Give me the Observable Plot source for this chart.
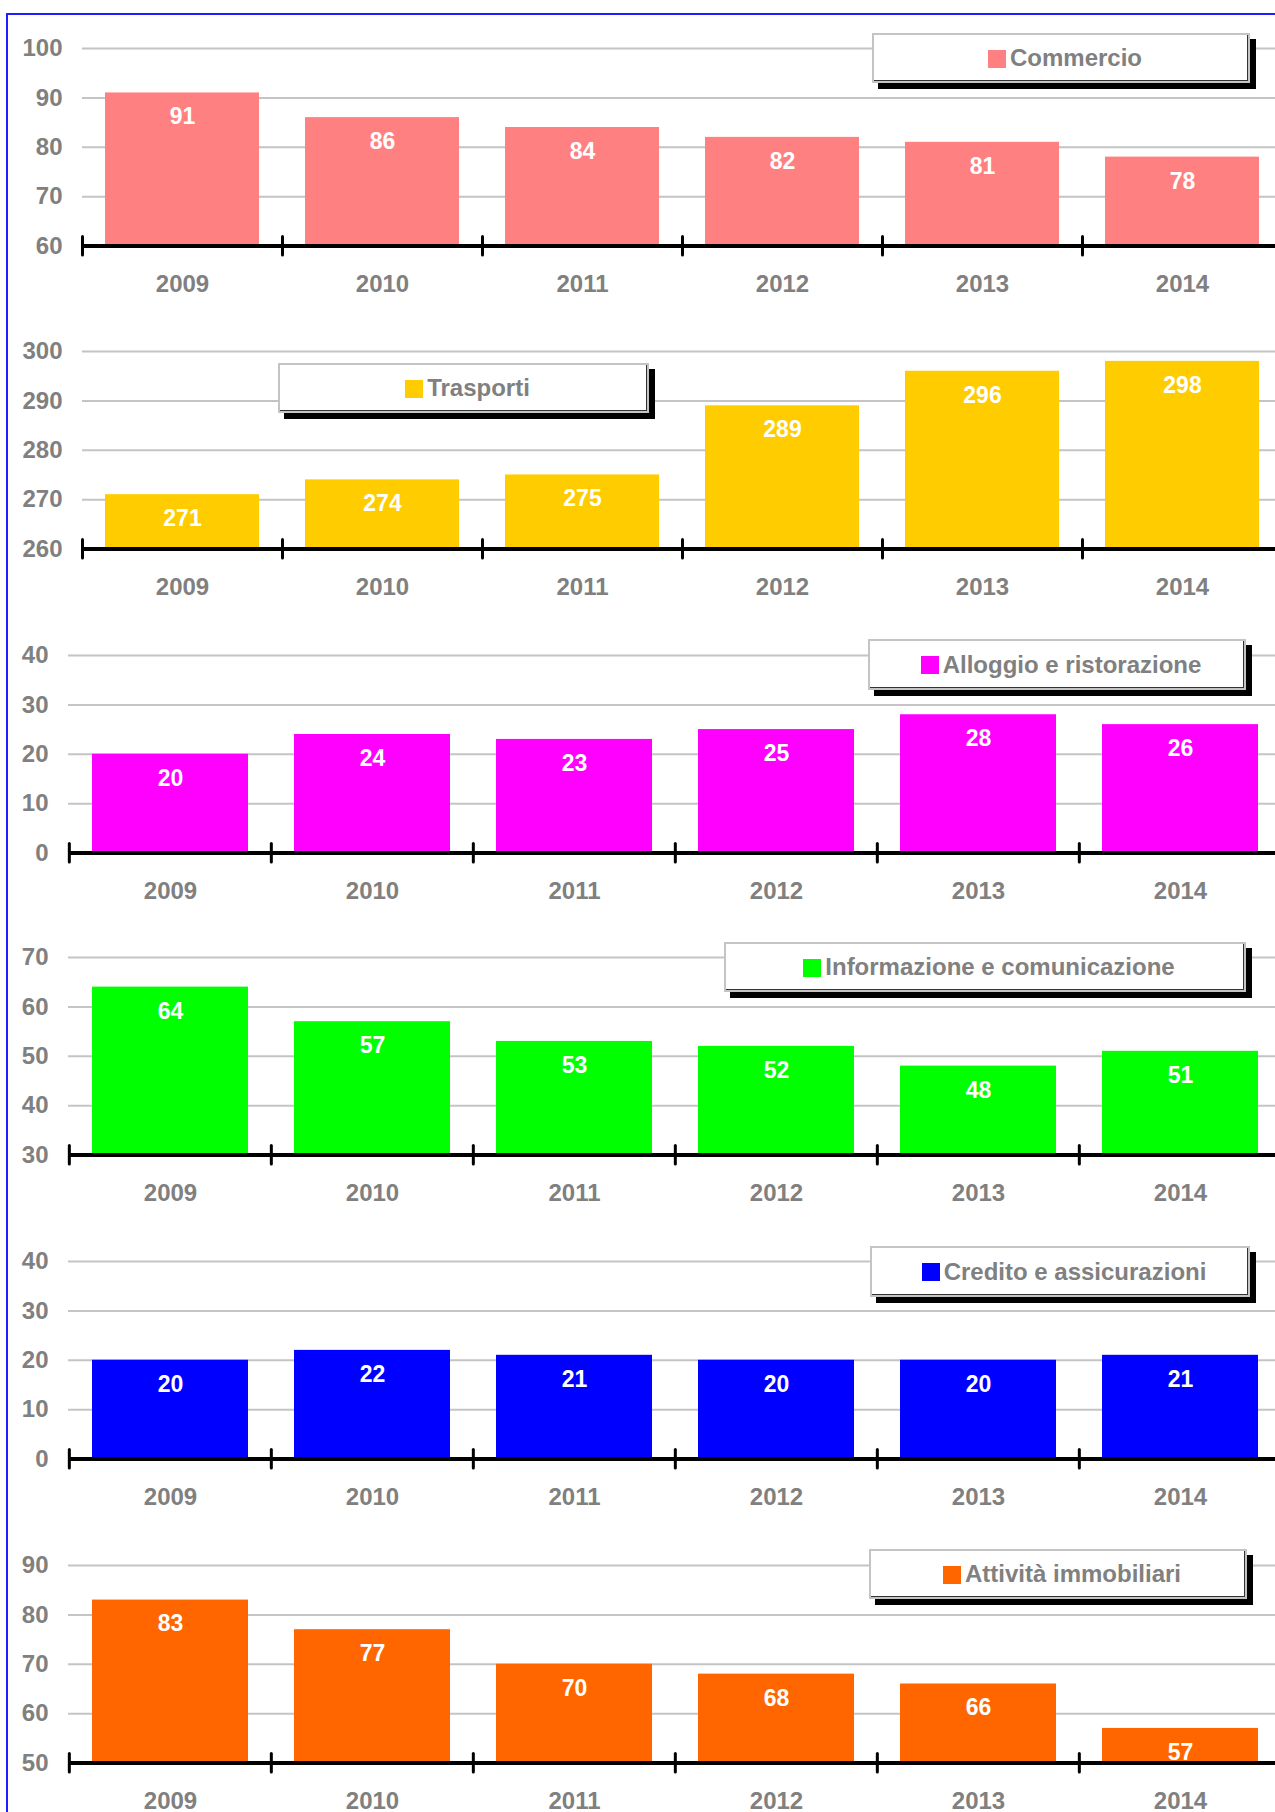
<!DOCTYPE html>
<html>
<head>
<meta charset="utf-8">
<script src="https://cdn.jsdelivr.net/npm/d3@7"></script>
<script src="https://cdn.jsdelivr.net/npm/@observablehq/plot@0.6"></script>
<style>
  html, body { margin: 0; padding: 0; background: #fff; }
  body { width: 1275px; height: 1812px; overflow: hidden; position: relative;
         font-family: "Liberation Sans", Arial, sans-serif; }
  #frame { position: absolute; left: 6px; top: 13px; width: 1400px; height: 1900px;
           border-left: 2px solid #1f1fff; border-top: 2px solid #1f1fff; }
  .panel { position: absolute; left: 0; max-width: none !important; }
  .legend { position: absolute; box-sizing: border-box; background: #fff;
            border: 2px solid #c4c4c4; box-shadow: inset -1px -1px 0 #333, 6px 6px 0 #000;
            display: flex; align-items: center; justify-content: center; padding-left: 8px;
            color: #808080; font-weight: bold; font-size: 24px; z-index: 5; }
  .legend .sw { width: 18px; height: 18px; margin-right: 4px; margin-top: 1px; }
</style>
</head>
<body>
<div id="frame"></div>
<div id="root"></div>
<script>
// ---- data ----
const years = ["2009", "2010", "2011", "2012", "2013", "2014"];
const seriesNames = ["Commercio", "Trasporti", "Alloggio e ristorazione",
  "Informazione e comunicazione", "Credito e assicurazioni", "Attività immobiliari"];
const commercio = [91, 86, 84, 82, 81, 78];
const trasporti = [271, 274, 275, 289, 296, 298];
const alloggio = [20, 24, 23, 25, 28, 26];
const informazione = [64, 57, 53, 52, 48, 51];
const credito = [20, 22, 21, 20, 20, 21];
const immobiliari = [83, 77, 70, 68, 66, 57];
const seriesColors = ["#FF8080", "#FFCC00", "#FF00FF", "#00FF00", "#0000FF", "#FF6600"];
const yTicks1 = [60, 70, 80, 90, 100];
const yTicks2 = [260, 270, 280, 290, 300];
const yTicks3 = [0, 10, 20, 30, 40];
const yTicks4 = [30, 40, 50, 60, 70];
const yTicks5 = [0, 10, 20, 30, 40];
const yTicks6 = [50, 60, 70, 80, 90];

// ---- layout ----
const allValues = [commercio, trasporti, alloggio, informazione, credito, immobiliari];
const allTicks = [yTicks1, yTicks2, yTicks3, yTicks4, yTicks5, yTicks6];
const axisYs = [245.7, 548.5, 852, 1154.5, 1458, 1762];
const marginLefts = [82, 82, 68, 68, 68, 68];
const legendBoxes = [
  {left: 872, top: 33, width: 378, height: 50},
  {left: 278, top: 363, width: 371, height: 50},
  {left: 868, top: 639, width: 378, height: 51},
  {left: 724, top: 942, width: 522, height: 50},
  {left: 870, top: 1246, width: 380, height: 51},
  {left: 869, top: 1549, width: 378, height: 50}
];
const W = 1290, MR = 8, MT = 20, PH = 197.5, MB = 62.5;
const FONT = '"Liberation Sans", Arial, sans-serif';

const root = document.getElementById("root");

allValues.forEach((vals, i) => {
  const ticks = allTicks[i];
  const ymin = d3.min(ticks), ymax = d3.max(ticks);
  const data = years.map((y, j) => ({year: y, value: vals[j]}));
  const ml = marginLefts[i];
  const step = (W - MR - ml) / years.length;
  const chart = Plot.plot({
    width: W,
    height: MT + PH + MB,
    marginLeft: ml,
    marginRight: MR,
    marginTop: MT,
    marginBottom: MB,
    style: {fontFamily: FONT, fontSize: "24px", fontWeight: "bold", color: "#808080",
      background: "transparent", overflow: "visible", maxWidth: "none"},
    x: {type: "band", domain: years, paddingInner: 0.23, paddingOuter: 0.115, align: 0.5, label: null},
    y: {domain: [ymin, ymax], label: null},
    marks: [
      Plot.ruleY(ticks, {stroke: "#c4c4c4", strokeWidth: 2}),
      Plot.barY(data, {x: "year", y1: ymin, y2: "value", fill: seriesColors[i]}),
      Plot.ruleY([ymin], {stroke: "#000", strokeWidth: 4}),
      Plot.tickX(years, {x: d => d, dx: -step / 2, stroke: "#000", strokeWidth: 3,
        strokeLinecap: "round", insetTop: PH - 9, insetBottom: -9.5}),
      Plot.text(data, {x: "year", y: "value", text: d => String(d.value), dy: 24,
        fill: "#fff", fontSize: 23, fontWeight: "bold", fontFamily: FONT}),
      Plot.axisX({tickSize: 0, tickPadding: 29, fill: "#808080", fontSize: 24, fontWeight: "bold", label: null}),
      Plot.axisY({ticks: ticks, tickSize: 0, tickPadding: 20, fill: "#808080", fontSize: 24, fontWeight: "bold", label: null})
    ]
  });
  chart.classList.add("panel");
  chart.style.top = (axisYs[i] - PH - MT) + "px";
  chart.style.maxWidth = "none";
  root.appendChild(chart);

  const lb = legendBoxes[i];
  const lg = document.createElement("div");
  lg.className = "legend";
  lg.style.left = lb.left + "px";
  lg.style.top = lb.top + "px";
  lg.style.width = lb.width + "px";
  lg.style.height = lb.height + "px";
  const sw = document.createElement("span");
  sw.className = "sw";
  sw.style.background = seriesColors[i];
  const tx = document.createElement("span");
  tx.textContent = seriesNames[i];
  lg.appendChild(sw);
  lg.appendChild(tx);
  root.appendChild(lg);
});
</script>
</body>
</html>
